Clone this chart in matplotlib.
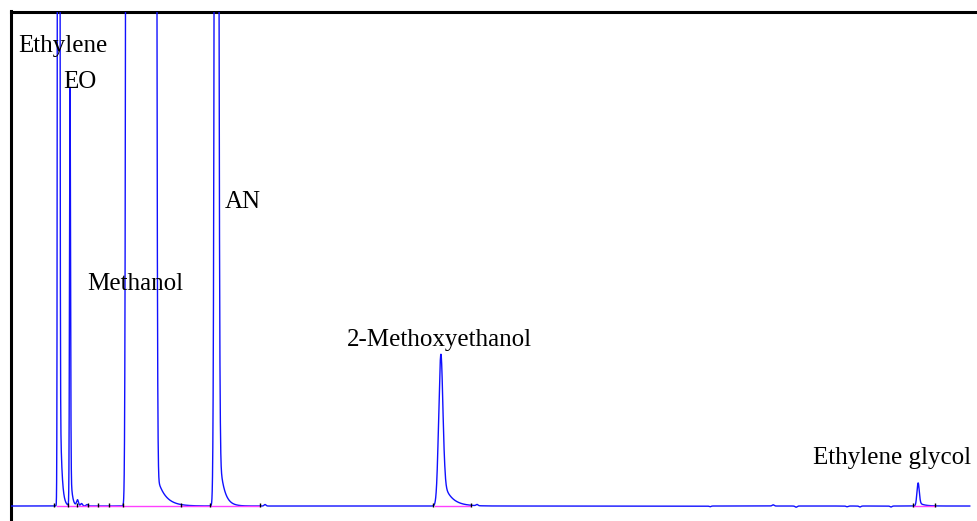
import numpy as np
import matplotlib
matplotlib.use('Agg')
import matplotlib.pyplot as plt

# Picos del cromatograma (tiempo de retención en min, altura en unidades de señal)
peak_names = ['Ethylene', 'EO', 'Methanol', 'AN', '2-Methoxyethanol', 'Ethylene glycol']
peak_rt = [0.598, 0.739, 1.623, 2.558, 5.341, 11.268]
peak_height = [1500, 82, 10000, 585, 28.5, 4.4]
peak_sigma = [0.0075, 0.0062, 0.135, 0.0165, 0.026, 0.0143]
peak_power = [2, 2, 6, 2, 2, 2]          # 6 = pico saturado (techo plano)
tail_height = [18, 5, 5, 8, 4, 0.5]
tail_tau = [0.021, 0.019, 0.10, 0.056, 0.10, 0.062]

# Picos pequeños y ruido de la línea base
minor_rt = [0.832, 0.882, 0.950, 3.160, 5.792, 8.685, 9.468, 9.753, 10.386, 10.547, 10.932]
minor_height = [1.2, 0.5, 0.3, 0.3, 0.25, -0.15, 0.25, -0.25, -0.15, -0.2, -0.2]

# Líneas base de integración (inicio, fin) y marcas de inicio/fin de pico
integ_start = [0.577, 5.271, 11.206]
integ_end = [3.098, 5.705, 11.479]
marks = [0.540, 0.714, 0.826, 0.962, 1.086, 1.223, 1.397, 2.117, 2.477, 3.098,
         5.246, 5.718, 11.206, 11.479]

# Posición y alineación de las etiquetas (min, señal)
label_x = [0.093, 0.652, 1.552, 2.663, 5.320, 11.926]
label_y = [91.8, 84.5, 43.7, 60.3, 32.4, 8.5]
label_ha = ['left', 'left', 'center', 'left', 'center', 'right']

t_end = 11.91


def peak(t, rt, h, s, p, th, tau):
    u = np.abs(t - rt) / s
    main = h * np.exp(-0.5 * u**p)
    edge = rt + s * (2 * np.log(h / th))**(1.0 / p)
    step = 1.0 / (1.0 + np.exp(-(t - rt) / (0.3 * s)))
    tail = th * np.exp(-np.clip(t - edge, 0, None) / tau) * step
    return main + tail


t = np.linspace(0, t_end, 40000)
signal = np.zeros_like(t)
for i in range(len(peak_rt)):
    signal += peak(t, peak_rt[i], peak_height[i], peak_sigma[i], peak_power[i],
                   tail_height[i], tail_tau[i])
for rt, h in zip(minor_rt, minor_height):
    signal += h * np.exp(-0.5 * ((t - rt) / 0.012)**2)

fig = plt.figure(figsize=(9.77, 5.21), dpi=100)
ax = fig.add_axes([10.5 / 977, 0, 966.5 / 977, 509.5 / 521])

ax.plot(t, signal, color='#1010ff', linewidth=1.0, zorder=3)
for a, b in zip(integ_start, integ_end):
    ax.plot([a, b], [0.1, 0.1], color='#ff40ff', linewidth=1.0, zorder=4)
ax.vlines(marks, -0.3, 0.6, color='black', linewidth=1.0, zorder=5)

for name, x, y, ha in zip(peak_names, label_x, label_y, label_ha):
    ax.text(x, y, name, fontsize=18, family='Liberation Serif',
            ha=ha, va='baseline', color='black', zorder=6)

ax.set_xlim(0, 12)
ax.set_ylim(-3.03, 100)
ax.set_xticks([])
ax.set_yticks([])
for side in ['right', 'bottom']:
    ax.spines[side].set_visible(False)
for side in ['left', 'top']:
    ax.spines[side].set_linewidth(2.2)
    ax.spines[side].set_color('black')

fig.savefig('out.png', dpi=100)
